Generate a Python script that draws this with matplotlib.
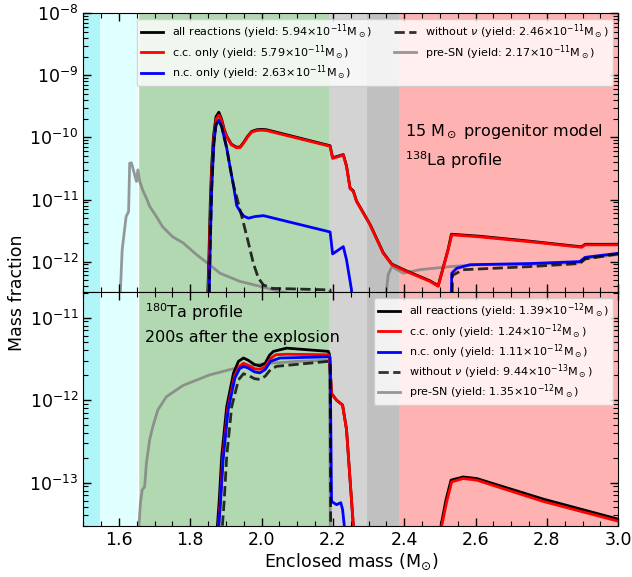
import numpy as np
import matplotlib
matplotlib.use("Agg")
import matplotlib.pyplot as plt
from matplotlib.ticker import AutoMinorLocator, LogLocator, NullFormatter, FixedLocator

nan = np.nan

# ---------------- 138La (top panel) ----------------
la_all_x = [1.849, 1.852, 1.856, 1.860, 1.865, 1.872, 1.880, 1.888, 1.895, 1.902, 1.915, 1.930,
            1.940, 1.950, 1.960, 1.972, 1.986, 2.000, 2.014, 2.192, 2.199, 2.229, 2.238, 2.248,
            2.257, 2.266, 2.304, 2.341, 2.365, 2.407, 2.472, 2.495, 2.523, 2.532, 2.612, 2.752,
            2.897, 2.907, 3.000]
la_all_y = [3.0e-13, 1.1e-12, 9e-12, 3.6e-11, 1.05e-10, 2.15e-10, 2.55e-10, 1.95e-10, 1.35e-10,
            1.05e-10, 7.8e-11, 6.95e-11, 7.05e-11, 8.4e-11, 1.03e-10, 1.25e-10, 1.33e-10, 1.35e-10,
            1.33e-10, 7.35e-11, 4.7e-11, 5.3e-11, 3.47e-11, 1.53e-11, 1.38e-11, 9.5e-12, 3.97e-12,
            1.39e-12, 9.1e-13, 7.05e-13, 4.9e-13, 4.08e-13, 1.58e-12, 2.76e-12, 2.56e-12, 2.13e-12,
            1.73e-12, 1.9e-12, 1.9e-12]

la_cc_x = [1.850, 1.853, 1.857, 1.861, 1.866, 1.873, 1.880, 1.888, 1.895, 1.902, 1.915, 1.930,
           1.940, 1.950, 1.960, 1.972, 1.986, 2.000, 2.014, 2.192, 2.199, 2.229, 2.238, 2.248,
           2.257, 2.266, 2.304, 2.341, 2.365, 2.407, 2.472, 2.495, 2.523, 2.533, 2.612, 2.752,
           2.897, 2.907, 3.000]
la_cc_y = [3.0e-13, 1.0e-12, 8e-12, 3.4e-11, 1.0e-10, 2.0e-10, 2.3e-10, 1.85e-10, 1.3e-10,
           1.02e-10, 7.6e-11, 6.8e-11, 6.9e-11, 8.2e-11, 1.0e-10, 1.22e-10, 1.29e-10, 1.31e-10,
           1.29e-10, 7.2e-11, 4.6e-11, 5.2e-11, 3.4e-11, 1.5e-11, 1.35e-11, 9.3e-12, 3.9e-12,
           1.36e-12, 8.9e-13, 6.9e-13, 4.8e-13, 4.0e-13, 1.55e-12, 2.7e-12, 2.5e-12, 2.09e-12,
           1.7e-12, 1.86e-12, 1.86e-12]

la_nc_x = [1.853, 1.856, 1.860, 1.866, 1.872, 1.880, 1.888, 1.895, 1.902, 1.912, 1.921, 1.930,
           1.940, 1.950, 1.963, 1.980, 2.005, 2.192, 2.199, 2.229, 2.238, 2.252, 2.258,
           2.528, 2.533, 2.547, 2.584, 2.752, 2.892, 2.907, 3.000]
la_nc_y = [3.0e-13, 2.0e-12, 1.5e-11, 8.0e-11, 1.6e-10, 1.9e-10, 1.5e-10, 1.0e-10, 6.8e-11,
           3.2e-11, 1.7e-11, 8.0e-12, 6.4e-12, 5.4e-12, 5.0e-12, 5.3e-12, 5.5e-12, 3.0e-12,
           1.33e-12, 1.74e-12, 1.07e-12, 3.5e-13, 1e-14,
           1e-14, 6.5e-13, 7.8e-13, 8.9e-13, 9.3e-13, 1.0e-12, 1.17e-12, 1.36e-12]

la_nonu_x = [1.853, 1.856, 1.860, 1.866, 1.872, 1.880, 1.888, 1.895, 1.902, 1.912, 1.921, 1.930,
             1.949, 1.963, 1.977, 1.991, 2.005, 2.030, 2.192, 2.195,
             2.531, 2.535, 2.565, 2.752, 2.892, 2.907, 3.000]
la_nonu_y = [3.0e-13, 2.0e-12, 1.5e-11, 8.0e-11, 1.6e-10, 1.85e-10, 1.5e-10, 1.0e-10, 6.8e-11,
             3.2e-11, 1.7e-11, 1.1e-11, 4.2e-12, 2.0e-12, 9.3e-13, 5.4e-13, 4.2e-13, 3.7e-13,
             3.5e-13, 1e-14,
             1e-14, 6.0e-13, 7.4e-13, 8.3e-13, 9.3e-13, 1.1e-12, 1.33e-12]

la_pre_x = [1.600, 1.609, 1.620, 1.627, 1.630, 1.635, 1.649, 1.653, 1.658, 1.667, 1.677, 1.686,
            1.705, 1.723, 1.751, 1.780, 1.817, 1.854, 1.883, 1.939, 1.995, 2.050, 2.150, 2.300,
            2.349, 2.355, 2.365, 2.397, 2.444, 2.528, 2.603, 2.750, 2.892, 2.907, 3.000]
la_pre_y = [1e-13, 1.55e-12, 5.3e-12, 6.4e-12, 3.85e-11, 3.9e-11, 1.95e-11, 3.0e-11, 1.95e-11,
            1.4e-11, 1.05e-11, 7.8e-12, 5.3e-12, 3.6e-12, 2.5e-12, 2.0e-12, 1.3e-12, 8.9e-13,
            6.5e-13, 4.8e-13, 4.0e-13, 3.3e-13, 2.6e-13, 2.2e-13, 3.1e-13, 6.2e-13, 8.3e-13,
            6.5e-13, 7.4e-13, 8.3e-13, 8.9e-13, 9.0e-13, 9.6e-13, 1.12e-12, 1.3e-12]

# ---------------- 180Ta (bottom panel) ----------------
ta_all_x = [1.876, 1.881, 1.888, 1.902, 1.921, 1.935, 1.949, 1.962, 1.980, 1.995, 2.010, 2.022,
            2.033, 2.070, 2.187, 2.190, 2.196, 2.210, 2.227, 2.238, 2.248, 2.260, 2.261,
            2.500, 2.503, 2.517, 2.531, 2.565, 2.603, 2.790, 3.000]
ta_all_y = [3e-14, 6e-14, 2.07e-13, 8.3e-13, 2.12e-12, 2.95e-12, 3.24e-12, 3.05e-12, 2.7e-12,
            2.6e-12, 2.8e-12, 3.5e-12, 3.9e-12, 4.27e-12, 3.9e-12, 3.6e-12, 1.2e-12, 1.0e-12,
            8.7e-13, 4.4e-13, 1.07e-13, 2e-14, nan,
            nan, 3e-14, 6.2e-14, 1.07e-13, 1.17e-13, 1.12e-13, 6.3e-14, 3.6e-14]

ta_cc_x = [1.879, 1.884, 1.891, 1.905, 1.924, 1.937, 1.949, 1.962, 1.980, 1.995, 2.010, 2.025,
           2.040, 2.070, 2.187, 2.190, 2.196, 2.210, 2.227, 2.238, 2.248, 2.260, 2.261,
           2.500, 2.505, 2.519, 2.533, 2.565, 2.603, 2.790, 3.000]
ta_cc_y = [3e-14, 6e-14, 2.0e-13, 8.0e-13, 1.95e-12, 2.55e-12, 2.8e-12, 2.65e-12, 2.4e-12,
           2.37e-12, 2.55e-12, 3.2e-12, 3.55e-12, 3.6e-12, 3.55e-12, 3.4e-12, 1.2e-12, 1.0e-12,
           8.7e-13, 4.4e-13, 1.07e-13, 2e-14, nan,
           nan, 3e-14, 5.9e-14, 1.02e-13, 1.12e-13, 1.07e-13, 5.9e-14, 3.4e-14]

ta_nc_x = [1.880, 1.885, 1.892, 1.906, 1.925, 1.938, 1.949, 1.962, 1.980, 1.995, 2.010, 2.025,
           2.051, 2.187, 2.192, 2.196, 2.210, 2.222, 2.227, 2.236]
ta_nc_y = [3e-14, 6e-14, 1.9e-13, 7.6e-13, 1.85e-12, 2.4e-12, 2.57e-12, 2.45e-12, 2.2e-12,
           2.14e-12, 2.35e-12, 2.95e-12, 3.24e-12, 3.35e-12, 3.3e-12, 5.9e-14, 5.4e-14,
           5.7e-14, 4.7e-14, 2e-14]

ta_nonu_x = [1.890, 1.895, 1.902, 1.916, 1.935, 1.949, 1.962, 1.980, 1.995, 2.010, 2.025, 2.042,
             2.187, 2.192, 2.194]
ta_nonu_y = [3e-14, 6e-14, 2.07e-13, 8.3e-13, 1.76e-12, 2.09e-12, 2.0e-12, 1.82e-12, 1.78e-12,
             1.95e-12, 2.35e-12, 2.57e-12, 2.95e-12, 2.9e-12, 1e-14]

ta_pre_x = [1.656, 1.660, 1.665, 1.672, 1.677, 1.686, 1.695, 1.709, 1.733, 1.780, 1.854, 1.915,
            2.000, 2.100, 2.190, 2.193]
ta_pre_y = [3e-14, 5.6e-14, 8.1e-14, 8.9e-14, 1.72e-13, 3.3e-13, 4.8e-13, 7.6e-13, 1.1e-12,
            1.51e-12, 2.02e-12, 2.37e-12, 2.75e-12, 2.95e-12, 3.05e-12, 1e-14]

la_labels = [r"all reactions (yield: 5.94$\times$10$^{-11}$M$_\odot$)",
             r"c.c. only (yield: 5.79$\times$10$^{-11}$M$_\odot$)",
             r"n.c. only (yield: 2.63$\times$10$^{-11}$M$_\odot$)",
             r"without $\nu$ (yield: 2.46$\times$10$^{-11}$M$_\odot$)",
             r"pre-SN (yield: 2.17$\times$10$^{-11}$M$_\odot$)"]
ta_labels = [r"all reactions (yield: 1.39$\times$10$^{-12}$M$_\odot$)",
             r"c.c. only (yield: 1.24$\times$10$^{-12}$M$_\odot$)",
             r"n.c. only (yield: 1.11$\times$10$^{-12}$M$_\odot$)",
             r"without $\nu$ (yield: 9.44$\times$10$^{-13}$M$_\odot$)",
             r"pre-SN (yield: 1.35$\times$10$^{-12}$M$_\odot$)"]

la_yticks = [1e-12, 1e-11, 1e-10, 1e-9, 1e-8]
ta_yticks = [1e-13, 1e-12, 1e-11]

# shaded zones (boundaries in M_sun)
zone_edges = [1.5, 1.547, 1.654, 2.19, 2.296, 2.386, 3.0]
zone_colors = ["#b0f5f8", "#e0ffff", "#b2d8b2", "#d3d3d3", "#c0c0c0", "#ffb2b2"]

W, H = 632, 577
fig = plt.figure(figsize=(W / 100, H / 100), dpi=100)
left, right = 83.3 / W, 618.3 / W
y_top, y_mid, y_bot = 13.3, 292.3, 525.7
ax1 = fig.add_axes([left, 1 - y_mid / H, right - left, (y_mid - y_top) / H])
ax2 = fig.add_axes([left, 1 - y_bot / H, right - left, (y_bot - y_mid) / H])


def draw(ax, data, ylim, yticks):
    for i in range(len(zone_colors)):
        ax.axvspan(zone_edges[i], zone_edges[i + 1], color=zone_colors[i], lw=0, zorder=0)
    ax.axvline(zone_edges[2], color="white", lw=1.0, zorder=0.5)
    (ax_, ay_), (cx, cy), (nx, ny), (wx, wy), (px, py) = data
    lp, = ax.plot(px, py, color="gray", lw=2, alpha=0.8, zorder=1)
    la, = ax.plot(ax_, ay_, color="black", lw=2, zorder=2)
    lc, = ax.plot(cx, cy, color="red", lw=2, zorder=3)
    ln, = ax.plot(nx, ny, color="blue", lw=2, zorder=4)
    lw_, = ax.plot(wx, wy, color="black", lw=2, ls="--", alpha=0.8, zorder=5)
    ax.set_yscale("log")
    ax.set_xlim(1.5, 3.0)
    ax.set_ylim(*ylim)
    ax.xaxis.set_minor_locator(AutoMinorLocator(4))
    ax.yaxis.set_major_locator(FixedLocator(yticks))
    ax.yaxis.set_minor_locator(LogLocator(base=10, subs=np.arange(2, 10), numticks=20))
    ax.yaxis.set_minor_formatter(NullFormatter())
    ax.tick_params(which="both", direction="in", top=True, right=True, labelsize=12.5)
    ax.tick_params(which="major", length=6, width=1)
    ax.tick_params(which="minor", length=3.5, width=0.8)
    return [la, lc, ln, lw_, lp]


h1 = draw(ax1, [(la_all_x, la_all_y), (la_cc_x, la_cc_y), (la_nc_x, la_nc_y),
                (la_nonu_x, la_nonu_y), (la_pre_x, la_pre_y)], (3.2e-13, 1e-8), la_yticks)
h2 = draw(ax2, [(ta_all_x, ta_all_y), (ta_cc_x, ta_cc_y), (ta_nc_x, ta_nc_y),
                (ta_nonu_x, ta_nonu_y), (ta_pre_x, ta_pre_y)], (3.0e-14, 2.03e-11), ta_yticks)

ax1.tick_params(labelbottom=False)
ax1.legend(h1, la_labels, loc="upper right", ncol=2, fontsize=8, labelspacing=0.15,
           borderpad=0.35)
ax2.legend(h2, ta_labels, loc="upper right", ncol=1, fontsize=8, labelspacing=0.15,
           borderpad=0.35)

ax1.text(2.401, 0.576, r"15 M$_\odot$ progenitor model", transform=ax1.get_xaxis_transform(),
         fontsize=11.5, va="center", ha="left")
ax1.text(2.401, 0.474, r"$^{138}$La profile", transform=ax1.get_xaxis_transform(),
         fontsize=11.5, va="center", ha="left")
ax2.text(1.673, 0.913, r"$^{180}$Ta profile", transform=ax2.get_xaxis_transform(),
         fontsize=11.5, va="center", ha="left")
ax2.text(1.673, 0.807, r"200s after the explosion", transform=ax2.get_xaxis_transform(),
         fontsize=11.5, va="center", ha="left")

ax2.set_xlabel(r"Enclosed mass (M$_{\odot}$)", fontsize=12.5, labelpad=2)
fig.text(0.027, 1 - y_mid / H, "Mass fraction", rotation=90, va="center", ha="center",
         fontsize=12.5)

fig.savefig("out.png", dpi=100)
